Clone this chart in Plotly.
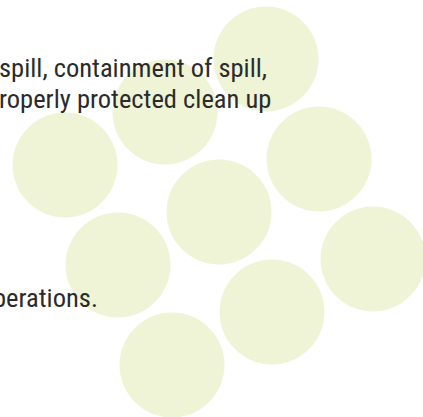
import plotly.graph_objects as go

# Circle centres (data units = pixels) and marker diameter
circle_x = [266, 165, 65, 319, 219, 118, 373, 272, 172]
circle_y = [59, 112, 165, 159, 212, 265, 259, 312, 365]
circle_diam = 105

# Visible text lines (cut at the left edge in the reference)
text_lines = ["spill, containment of spill,", "roperly protected clean up", "perations."]
text_right = [268, 272, 99]
text_base = [77, 108, 307]

W, H = 423, 417
fig = go.Figure()
fig.add_trace(go.Scatter(
    x=circle_x, y=circle_y, mode="markers",
    marker=dict(size=circle_diam, color="#eff4d7", line=dict(width=0)),
    hoverinfo="skip", showlegend=False,
))

fs = 26.5
for t, xr, yb in zip(text_lines, text_right, text_base):
    fig.add_annotation(
        x=xr, y=yb, xref="x", yref="y", text=t, showarrow=False,
        xanchor="right", yanchor="bottom", yshift=-7,
        font=dict(family="Roboto Condensed, Roboto, sans-serif", size=fs, color="#2b2b2b"),
        borderpad=0,
    )

fig.update_layout(
    width=W, height=H, margin=dict(l=0, r=0, t=0, b=0),
    paper_bgcolor="white", plot_bgcolor="white",
    xaxis=dict(range=[0, W], visible=False, fixedrange=True),
    yaxis=dict(range=[H, 0], visible=False, fixedrange=True),
    hovermode=False,
)
fig.write_html("out.html", config={"displayModeBar": False, "staticPlot": True},
               post_script="document.body.style.margin='0';document.body.style.overflow='hidden';")
